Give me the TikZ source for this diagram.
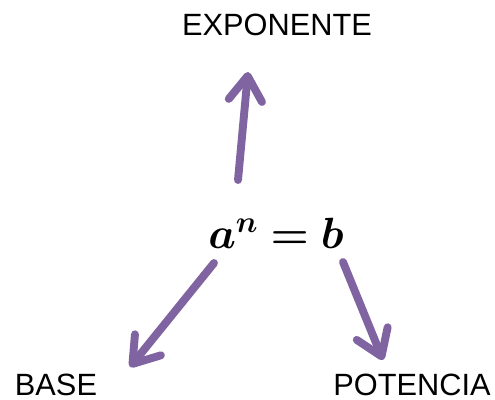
\documentclass[tikz,border=0pt]{standalone}
\usepackage{fontspec}
\setmainfont{Liberation Sans}
\usepackage{bm}
\usetikzlibrary{arrows.meta}
\definecolor{lila}{RGB}{128,100,162}
\begin{document}
\begin{tikzpicture}[x=0.02cm,y=-0.02cm,
    etiqueta/.style={font=\fontsize{17.5}{20}\selectfont,inner sep=0pt},
    flecha/.style={lila,line width=4.5pt,line cap=round,
      -{Straight Barb[length=14pt,width=19pt,line cap=round,line join=round]},
      preaction={draw=black!15,transform canvas={shift={(1.5pt,-1.5pt)}}}}]
  \useasboundingbox (0,0) rectangle (495,400);
  \node (formula) at (276,233) {\fontsize{26.5}{30}\selectfont$\bm{a^n=b}$};
  \node[etiqueta] (exponente) at (277,25) {EXPONENTE};
  \node[etiqueta] (base) at (56,385) {BASE};
  \node[etiqueta] (potencia) at (412,385) {POTENCIA};
  % extremos de las flechas
  \coordinate (ei) at (238,180); \coordinate (ef) at (248,72);
  \coordinate (bi) at (214,263); \coordinate (bf) at (130,367);
  \coordinate (pi) at (343,262); \coordinate (pf) at (383,360);
  \foreach \ini/\fin in {ei/ef,bi/bf,pi/pf}
    \draw[flecha] (\ini) -- (\fin);
\end{tikzpicture}
\end{document}
